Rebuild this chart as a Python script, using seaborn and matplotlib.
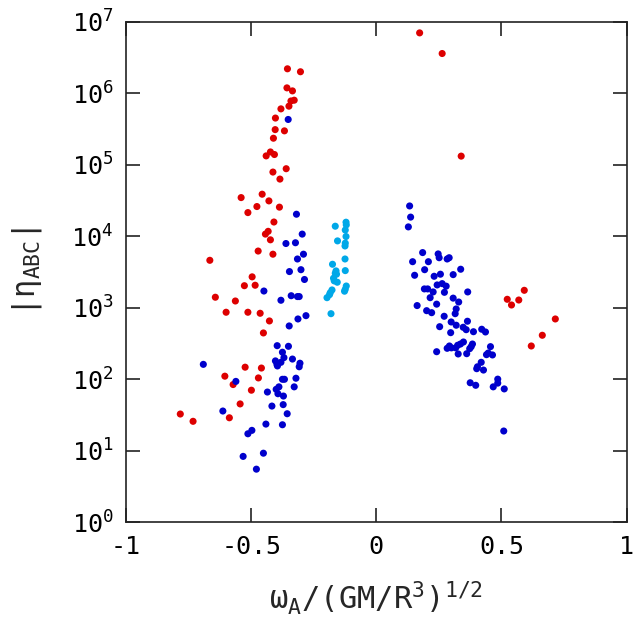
import numpy as np
import pandas as pd
import matplotlib
matplotlib.use("Agg")
import matplotlib.pyplot as plt
from matplotlib.ticker import NullLocator
import seaborn as sns

# -----------------------------
# DATA
# -----------------------------
red_x = [-0.355, -0.303, -0.357, -0.335, -0.341, -0.328, -0.349, -0.381, -0.403, -0.404,
         -0.367, -0.411, -0.423, -0.440, -0.407, -0.360, -0.413, -0.385, -0.540, -0.456,
         -0.429, -0.477, -0.387, -0.513, -0.409, -0.432, -0.443, -0.423, -0.472, -0.413,
         -0.665, -0.496, -0.527, -0.484, -0.643, -0.563, -0.600, -0.513, -0.464, -0.427,
         -0.451, -0.524, -0.459, -0.605, -0.572, -0.471, -0.499, -0.544, -0.783, -0.732,
         -0.587,
         0.591, 0.523, 0.569, 0.540, 0.715, 0.663, 0.619,
         0.173, 0.263, 0.339]
red_y = [2.2e6, 2.0e6, 1.19e6, 1.08e6, 7.8e5, 8.0e5, 6.6e5, 6.05e5, 4.5e5, 3.1e5,
         2.98e5, 2.35e5, 1.51e5, 1.33e5, 1.39e5, 8.8e4, 7.9e4, 6.3e4, 3.47e4, 3.87e4,
         3.12e4, 2.6e4, 2.55e4, 2.14e4, 1.58e4, 1.17e4, 1.07e4, 8.9e3, 6.2e3, 5.6e3,
         4.6e3, 2.7e3, 2.03e3, 2.06e3, 1.4e3, 1.24e3, 863, 863, 835, 652,
         443, 147, 143, 110, 84, 104, 70, 45, 32.5, 25.7,
         28.8,
         1.75e3, 1.31e3, 1.28e3, 1.09e3, 695, 411, 291,
         7.0e6, 3.6e6, 1.32e5]

blue_x = [-0.352, -0.319, -0.296, -0.361, -0.323, -0.291, -0.315, -0.347, -0.301, -0.287,
          -0.449, -0.381, -0.340, -0.315, -0.308, -0.281, -0.313, -0.348, -0.396, -0.351,
          -0.375, -0.369, -0.403, -0.381, -0.335, -0.395, -0.397, -0.305, -0.308, -0.691,
          -0.561, -0.375, -0.367, -0.321, -0.389, -0.400, -0.328, -0.435, -0.393, -0.371,
          -0.372, -0.417, -0.613, -0.356, -0.441, -0.375, -0.497, -0.513, -0.532, -0.451,
          -0.479,
          0.133, 0.137, 0.128, 0.185, 0.145, 0.208, 0.247, 0.251, 0.283, 0.291,
          0.193, 0.153, 0.231, 0.256, 0.337, 0.307, 0.243, 0.263, 0.279, 0.192,
          0.205, 0.227, 0.272, 0.365, 0.215, 0.307, 0.329, 0.163, 0.241, 0.319,
          0.315, 0.201, 0.221, 0.271, 0.364, 0.299, 0.319, 0.253, 0.347, 0.359,
          0.297, 0.388, 0.421, 0.436, 0.348, 0.336, 0.325, 0.292, 0.283, 0.300,
          0.317, 0.384, 0.379, 0.373, 0.456, 0.241, 0.327, 0.361, 0.440, 0.447,
          0.464, 0.419, 0.404, 0.401, 0.428, 0.485, 0.485, 0.375, 0.397, 0.467,
          0.511, 0.509]
blue_y = [4.3e5, 2.03e4, 1.07e4, 7.9e3, 8.1e3, 5.6e3, 4.8e3, 3.2e3, 3.4e3, 2.48e3,
          1.71e3, 1.27e3, 1.47e3, 1.43e3, 1.43e3, 773, 695, 555, 294, 288,
          238, 200, 180, 172, 191, 153, 161, 167, 149, 161,
          93, 99.5, 99.5, 103, 78, 72, 78, 66, 62.5, 58,
          44, 42, 35.8, 32.8, 23.5, 23, 19.2, 17.2, 8.3, 9.2,
          5.5,
          2.65e4, 1.85e4, 1.35e4, 5.9e3, 4.4e3, 4.4e3, 5.65e3, 5.0e3, 4.8e3, 5.0e3,
          3.4e3, 2.84e3, 2.75e3, 2.94e3, 3.45e3, 2.9e3, 2.08e3, 2.17e3, 2.0e3, 1.83e3,
          1.83e3, 1.66e3, 1.64e3, 1.66e3, 1.38e3, 1.36e3, 1.2e3, 1.07e3, 1.12e3, 960,
          824, 908, 851, 758, 646, 631, 568, 542, 532, 492,
          447, 461, 499, 457, 331, 310, 298, 291, 270, 274,
          274, 310, 285, 267, 285, 242, 225, 227, 220, 232,
          218, 172, 149, 140, 134, 100, 88, 89, 82, 78,
          73, 18.8]

cyan_x = [-0.164, -0.121, -0.120, -0.124, -0.121, -0.155, -0.124, -0.125, -0.125, -0.175,
          -0.161, -0.164, -0.159, -0.124, -0.171, -0.168, -0.156, -0.120, -0.124, -0.127,
          -0.177, -0.184, -0.187, -0.197, -0.181]
cyan_y = [1.38e4, 1.57e4, 1.44e4, 1.22e4, 9.9e3, 8.6e3, 8.0e3, 7.3e3, 4.8e3, 4.05e3,
          3.27e3, 3.03e3, 2.94e3, 3.3e3, 2.58e3, 2.37e3, 2.27e3, 2.01e3, 1.81e3, 1.70e3,
          1.77e3, 1.62e3, 1.52e3, 1.38e3, 824]

x_ticks = [-1, -0.5, 0, 0.5, 1]
x_tick_labels = ["-1", "-0.5", "0", "0.5", "1"]
y_exponents = [0, 1, 2, 3, 4, 5, 6, 7]

df = pd.concat([
    pd.DataFrame({"x": red_x, "y": red_y, "group": "red"}),
    pd.DataFrame({"x": blue_x, "y": blue_y, "group": "blue"}),
    pd.DataFrame({"x": cyan_x, "y": cyan_y, "group": "cyan"}),
], ignore_index=True)

palette = {"red": "#dd0000", "blue": "#0000cc", "cyan": "#00a8e8"}

# -----------------------------
# STYLE
# -----------------------------
sns.set_style("ticks")
plt.rcParams["font.family"] = ["DejaVu Sans Mono"]
plt.rcParams["mathtext.fontset"] = "custom"
plt.rcParams["mathtext.rm"] = "DejaVu Sans Mono"
plt.rcParams["mathtext.it"] = "DejaVu Sans Mono"
plt.rcParams["mathtext.bf"] = "DejaVu Sans Mono"
plt.rcParams["mathtext.default"] = "regular"
plt.rcParams["axes.unicode_minus"] = False

fig = plt.figure(figsize=(6.33, 6.23), dpi=100)
ax = fig.add_axes([0.199, 0.162, 0.791, 0.803])

sns.scatterplot(data=df, x="x", y="y", hue="group", palette=palette,
                s=26, linewidth=0, legend=False, ax=ax)

ax.set_yscale("log")
ax.set_xlim(-1, 1)
ax.set_ylim(1, 1e7)
ax.set_xticks(x_ticks)
ax.set_xticklabels(x_tick_labels)
ax.set_yticks([10.0 ** e for e in y_exponents])
ax.set_yticklabels([r"$10^{%d}$" % e for e in y_exponents])
ax.yaxis.set_minor_locator(NullLocator())

ax.tick_params(direction="in", length=10, width=1.2, colors="#222222",
               top=True, right=True, labelsize=18, pad=9, labelcolor="black")
for sp in ax.spines.values():
    sp.set_linewidth(1.2)
    sp.set_color("#222222")

ax.set_xlabel(r"$\omega_{A}/(GM/R^{3})^{1/2}$", fontsize=22, labelpad=15)
ax.set_ylabel(r"$|\eta_{ABC}|$", fontsize=22, labelpad=20)

plt.savefig("out.png", dpi=100)
